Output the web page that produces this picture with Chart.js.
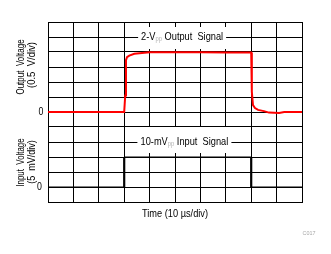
<!DOCTYPE html>
<html>
<head>
<meta charset="utf-8">
<script src="https://cdn.jsdelivr.net/npm/chart.js@4.4.1/dist/chart.umd.min.js"></script>
<style>
  html, body { margin: 0; padding: 0; background: #fff; }
  #wrap { width: 331px; height: 254px; }
</style>
</head>
<body>
<div id="wrap"><canvas id="scope" width="331" height="254"></canvas></div>
<script>
// time in divisions (10 us/div)
const outTime = [0, 3.0, 3.03, 3.04, 3.07, 3.11, 3.2, 3.4, 3.7, 4.0, 6.0, 7.0, 8.0, 8.02, 8.03, 8.07, 8.15, 8.27, 8.5, 8.7, 9.1, 9.3, 10];
// output voltage (V)
const outVolts = [0, 0, 0, 0.55, 1.73, 1.83, 1.88, 1.94, 1.97, 1.99, 1.99, 1.98, 1.98, 1.98, 0.67, 0.23, 0.13, 0.07, 0.03, -0.02, -0.03, 0, 0];
// input signal (mV)
const inTime = [0, 3, 3, 8, 8, 10];
const inMv = [0, 0, 10, 10, 0, 0];

const FONT = "'Liberation Sans', Arial, sans-serif";

function toPoints(xs, ys) {
    return xs.map((x, i) => ({ x: x, y: ys[i] }));
}

// squeezed text (the original uses a narrow face)
function narrowText(ctx, text, x, y, size, sx, align, rotate) {
    ctx.save();
    ctx.translate(x, y);
    if (rotate) ctx.rotate(-Math.PI / 2);
    ctx.scale(sx, 1);
    ctx.font = size + 'px ' + FONT;
    ctx.textAlign = align;
    ctx.textBaseline = 'middle';
    ctx.fillText(text, 0, 0);
    ctx.restore();
}

// text with a small grey "pp" subscript, centred on cx
function drawSubText(ctx, parts, cx, cy, sx) {
    let total = 0;
    parts.forEach(p => {
        ctx.font = (p.sub ? 7 : 11) + 'px ' + FONT;
        p.w = ctx.measureText(p.t).width * sx;
        total += p.w;
    });
    let x = cx - total / 2;
    parts.forEach(p => {
        ctx.fillStyle = p.sub ? '#b4b4b4' : '#000';
        narrowText(ctx, p.t, x, p.sub ? cy + 2 : cy, p.sub ? 7 : 11, sx, 'left');
        x += p.w;
    });
}

const scopeLabels = {
    id: 'scopeLabels',
    afterDatasetsDraw(chart) {
        const ctx = chart.ctx;
        const sx = chart.scales.x, sy = chart.scales.y, sy2 = chart.scales.y2;
        ctx.save();

        // output signal label
        let cx = sx.getPixelForValue(5.28), cy = sy.getPixelForValue(2.5);
        ctx.fillStyle = '#fff';
        ctx.fillRect(cx - 44, cy - 10, 88, 22);
        drawSubText(ctx, [{ t: '2-V' }, { t: 'pp', sub: true }, { t: ' Output  Signal' }], cx, cy, 0.84);

        // input signal label
        cx = sx.getPixelForValue(5.37); cy = sy2.getPixelForValue(15);
        ctx.fillStyle = '#fff';
        ctx.fillRect(cx - 47, cy - 15, 94, 26);
        drawSubText(ctx, [{ t: '10-mV' }, { t: 'pp', sub: true }, { t: ' Input  Signal' }], cx, cy, 0.84);

        // zero labels
        ctx.fillStyle = '#000';
        narrowText(ctx, '0', 43.5, sy.getPixelForValue(0), 11, 0.8, 'right');
        narrowText(ctx, '0', 42, sy2.getPixelForValue(0), 11, 0.8, 'right');

        // axis titles
        narrowText(ctx, 'Output  Voltage', 21, 67, 10, 0.8, 'center', true);
        narrowText(ctx, '(0.5  V/div)', 32.5, 65, 10, 0.95, 'center', true);
        narrowText(ctx, 'Input  Voltage', 21, 162.5, 10, 0.79, 'center', true);
        narrowText(ctx, '(5  mV/div)', 32.5, 162, 10, 0.9, 'center', true);

        narrowText(ctx, 'Time (10 \u00b5s/div)', 175, 214, 11, 0.84, 'center');

        ctx.fillStyle = '#a8a8a8';
        narrowText(ctx, 'C017', 309, 233, 6, 0.9, 'center');
        ctx.restore();
    }
};

const scope = new Chart(document.getElementById('scope'), {
    type: 'line',
    data: {
        datasets: [
            {
                label: 'Input',
                data: toPoints(inTime, inMv),
                yAxisID: 'y2',
                borderColor: '#000',
                borderWidth: 2,
                segment: {
                    borderWidth: c => (c.p0.parsed.x === c.p1.parsed.x ? 2.2 : 1)
                },
                pointRadius: 0,
                fill: false,
                tension: 0
            },
            {
                label: 'Output',
                data: toPoints(outTime, outVolts),
                yAxisID: 'y',
                borderColor: '#ff0000',
                borderWidth: 2,
                pointRadius: 0,
                fill: false,
                tension: 0
            }
        ]
    },
    options: {
        responsive: false,
        animation: false,
        layout: {
            padding: { left: 48, right: 29, top: 22, bottom: 52 }
        },
        plugins: {
            legend: { display: false },
            tooltip: { enabled: false }
        },
        scales: {
            x: {
                type: 'linear',
                min: 0,
                max: 10,
                ticks: { display: false, stepSize: 1 },
                grid: { color: '#000', lineWidth: 1, drawTicks: false },
                border: { color: '#000', width: 1 }
            },
            y: {
                min: -3,
                max: 3,
                ticks: { display: false, stepSize: 0.5 },
                grid: { color: '#000', lineWidth: 1, drawTicks: false },
                border: { color: '#000', width: 1 }
            },
            y2: {
                display: false,
                min: -5,
                max: 55
            }
        }
    },
    plugins: [scopeLabels]
});
</script>
</body>
</html>
